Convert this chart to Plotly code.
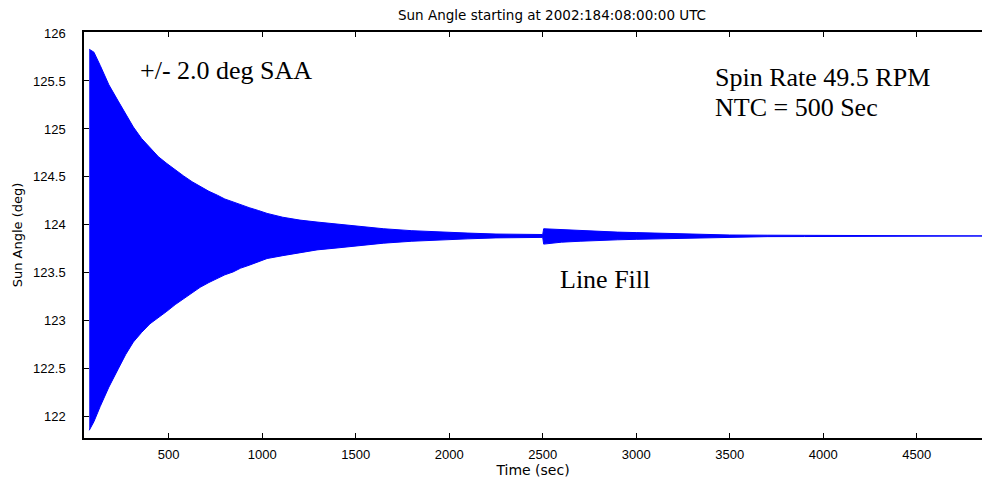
import plotly.graph_objects as go

# Envelope of the sun-angle oscillation
time_sec = [75, 100, 134, 180, 230, 270, 311, 355, 400, 445, 490, 535, 580, 625,
            668, 715, 760, 800, 844, 885, 930, 980, 1026, 1110, 1202, 1293, 1400,
            1500, 1650, 1800, 1950, 2100, 2250, 2400, 2500, 2505, 2600, 2700, 2800,
            2900, 3000, 3100, 3200, 3300, 3400, 3500, 3700, 3900, 4050, 4100, 4849]
upper_deg = [125.83, 125.80, 125.66, 125.46, 125.29, 125.15, 125.02, 124.90, 124.80,
             124.71, 124.64, 124.57, 124.51, 124.45, 124.40, 124.35, 124.31, 124.27,
             124.24, 124.21, 124.18, 124.15, 124.12, 124.08, 124.05, 124.03, 124.01,
             123.99, 123.96, 123.94, 123.925, 123.915, 123.905, 123.90, 123.90,
             123.96, 123.95, 123.94, 123.93, 123.925, 123.92, 123.915, 123.91,
             123.905, 123.90, 123.895, 123.893, 123.891, 123.89, 123.885, 123.885]
lower_deg = [121.86, 121.95, 122.11, 122.31, 122.50, 122.65, 122.78, 122.88, 122.97,
             123.04, 123.10, 123.17, 123.23, 123.29, 123.35, 123.40, 123.44, 123.48,
             123.51, 123.55, 123.58, 123.62, 123.65, 123.68, 123.71, 123.74, 123.76,
             123.78, 123.81, 123.83, 123.845, 123.855, 123.865, 123.87, 123.87,
             123.80, 123.82, 123.83, 123.84, 123.845, 123.85, 123.855, 123.86,
             123.865, 123.87, 123.875, 123.878, 123.879, 123.88, 123.885, 123.885]

x_ticks = [500, 1000, 1500, 2000, 2500, 3000, 3500, 4000, 4500]
y_ticks = [122, 122.5, 123, 123.5, 124, 124.5, 125, 125.5, 126]

BLUE = "#0000ff"
SANS = "Liberation Sans, Arial, sans-serif"
SANS_WIDE = "DejaVu Sans, sans-serif"
SERIF = "Liberation Serif, Times New Roman, serif"

fig = go.Figure()
fig.add_trace(go.Scatter(x=time_sec, y=upper_deg, mode="lines",
                         line=dict(color=BLUE, width=1), showlegend=False,
                         hoverinfo="skip"))
fig.add_trace(go.Scatter(x=time_sec, y=lower_deg, mode="lines", fill="tonexty",
                         fillcolor=BLUE, line=dict(color=BLUE, width=1),
                         showlegend=False, hoverinfo="skip"))

ann_font = dict(family=SERIF, size=26, color="black")
fig.add_annotation(x=336, y=125.61, text="+/- 2.0 deg SAA", showarrow=False,
                   xanchor="left", yanchor="middle", font=ann_font)
fig.add_annotation(x=3412, y=125.54, text="Spin Rate 49.5 RPM", showarrow=False,
                   xanchor="left", yanchor="middle", font=ann_font)
fig.add_annotation(x=3412, y=125.22, text="NTC = 500 Sec", showarrow=False,
                   xanchor="left", yanchor="middle", font=ann_font)
fig.add_annotation(x=2582, y=123.43, text="Line Fill", showarrow=False,
                   xanchor="left", yanchor="middle", font=ann_font)

fig.update_layout(
    width=982, height=483,
    margin=dict(l=84, r=0, t=32, b=45),
    paper_bgcolor="white", plot_bgcolor="white",
    title=dict(text="Sun Angle starting at 2002:184:08:00:00 UTC",
               x=552 / 982, xanchor="center", y=1 - 15 / 483, yanchor="middle",
               font=dict(family=SANS_WIDE, size=13.5, color="black")),
    font=dict(family=SANS, size=12, color="black"),
)
fig.update_xaxes(range=[47, 4849], tickvals=x_ticks, ticks="inside", ticklen=5,
                 tickcolor="black", showline=True, linecolor="black", linewidth=1.5,
                 mirror="ticks", showgrid=False, zeroline=False,
                 ticklabelstandoff=4,
                 tickfont=dict(family=SANS, size=13, color="black"),
                 title=dict(text="Time (sec)", standoff=3,
                            font=dict(family=SANS_WIDE, size=14, color="black")))
fig.update_yaxes(range=[121.78, 126.01], tickvals=y_ticks, ticks="inside", ticklen=5,
                 tickcolor="black", showline=True, linecolor="black", linewidth=1.5,
                 mirror=False, showgrid=False, zeroline=False,
                 ticklabelstandoff=14,
                 tickfont=dict(family=SANS, size=13, color="black"),
                 title=dict(text="Sun Angle (deg)", standoff=8,
                            font=dict(family=SANS_WIDE, size=13, color="black")))

fig.write_html("out.html")
